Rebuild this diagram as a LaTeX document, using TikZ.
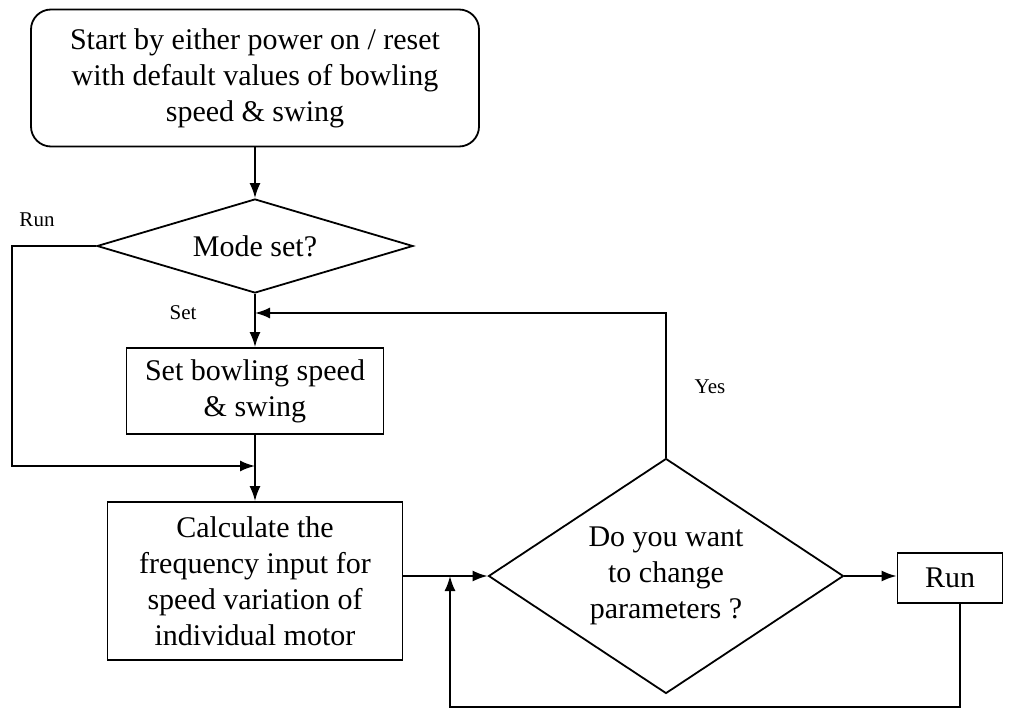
\documentclass[tikz,border=0pt]{standalone}
\usepackage{fontspec}
\setmainfont{Liberation Serif}
\usetikzlibrary{shapes.geometric,arrows.meta}
\tikzset{
    >={Latex[length=7.5pt,width=5.5pt]},
    every path/.style={line width=0.9pt}
}

\begin{document}
\begin{tikzpicture}[x=0.5pt,y=-0.5pt,
                    font=\fontsize{15}{18}\selectfont,
                    startbox/.style={draw,rounded corners=10pt,align=center,inner sep=0pt,minimum width=224pt,minimum height=68.5pt},
                    procbox/.style={draw,align=center,inner sep=0pt},
                    decision/.style={draw,diamond,align=center,inner sep=0pt},
                    lbl/.style={font=\fontsize{10.5}{12}\selectfont}]
\useasboundingbox (0,0) rectangle (1012,711);

% Boxes
\node[startbox] (start) at (255,78) {Start by either power on / reset\\with default values of bowling\\speed \& swing};
\node[decision,aspect=3.36,minimum width=158pt,minimum height=47pt] (mode) at (255,246) {Mode set?};
\node[procbox,minimum width=128.5pt,minimum height=43pt] (setbox) at (255,391) {Set bowling speed\\\& swing};
\node[procbox,minimum width=147.5pt,minimum height=79pt] (calc) at (255,581) {Calculate the\\frequency input for\\speed variation of\\individual motor};
\node[decision,aspect=1.5,minimum width=177.5pt,minimum height=117.5pt] (change) at (666,576) {Do you want\\to change\\parameters ?};
\node[procbox,minimum width=52.5pt,minimum height=25pt] (run) at (950,578) {Run};

% Labels
\node[lbl] (runlbl) at (37,220) {Run};
\node[lbl] (setlbl) at (183,313) {Set};
\node[lbl] (yeslbl) at (710,387) {Yes};

% Junctions
\coordinate (runcorner) at (12,466);
\coordinate (runjoin) at (255,466);
\coordinate (yesjoin) at (255,313);
\coordinate (loopcorner) at (960,707);
\coordinate (loopjoin) at (450,576);

% Connectors
\draw[->] (start) -- (mode);
\draw[->] (mode) -- (setbox);
\draw[->] (setbox) -- (calc);
\draw[->] (mode.west) -| (runcorner) -- (runjoin);
\draw[->] (calc.east |- change.west) -- (change.west);
\draw[->] (change.east) -- (change.east -| run.west);
\draw[->] (change.north) |- (yesjoin);
\draw[->] (run.south -| loopcorner) -- (loopcorner) -| (loopjoin);

\end{tikzpicture}
\end{document}
